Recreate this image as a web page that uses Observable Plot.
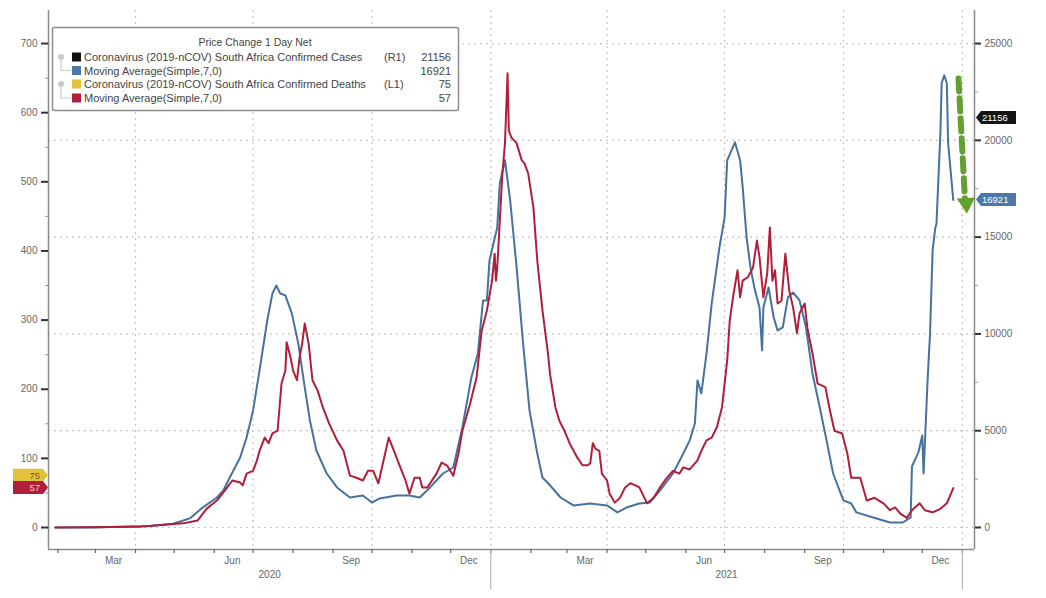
<!DOCTYPE html>
<html><head><meta charset="utf-8">
<script src="https://cdn.jsdelivr.net/npm/d3@7"></script>
<script src="https://cdn.jsdelivr.net/npm/@observablehq/plot@0.6"></script>
<style>
html,body{margin:0;padding:0;background:#fff;}
#chart{width:1046px;height:598px;overflow:hidden;}
#chart svg{font-family:"Liberation Sans",Arial,sans-serif;display:block;}
</style></head><body><div id="chart"></div>
<script>
// ---- data ----
const casesMA = [
["2020-01-30",0],["2020-03-01",0],["2020-03-28",60],["2020-04-12",80],["2020-04-30",200],["2020-05-08",360],["2020-05-13",470],["2020-05-23",1030],["2020-06-03",1550],["2020-06-08",1910],["2020-06-13",2580],["2020-06-21",3620],["2020-06-26",4650],["2020-07-01",6050],["2020-07-06",8110],["2020-07-12",10700],["2020-07-16",12090],["2020-07-19",12500],["2020-07-22",12090],["2020-07-26",11990],["2020-07-31",11060],["2020-08-05",9510],["2020-08-10",7240],["2020-08-14",5530],["2020-08-19",3980],["2020-08-27",2790],["2020-09-04",2070],["2020-09-14",1550],["2020-09-24",1650],["2020-10-01",1290],["2020-10-07",1500],["2020-10-20",1650],["2020-10-30",1650],["2020-11-07",1550],["2020-11-15",2070],["2020-11-25",2790],["2020-12-03",3100],["2020-12-10",5170],["2020-12-17",7750],["2020-12-22",8990],["2020-12-26",11730],["2020-12-29",11730],["2020-12-31",13800],["2021-01-06",15500],["2021-01-08",17780],["2021-01-12",18970],["2021-01-16",16900],["2021-01-21",13440],["2021-01-26",9510],["2021-01-31",6050],["2021-02-06",3820],["2021-02-10",2580],["2021-02-16",2170],["2021-02-24",1550],["2021-03-06",1140],["2021-03-19",1240],["2021-04-01",1140],["2021-04-09",780],["2021-04-16",1030],["2021-04-26",1240],["2021-05-04",1290],["2021-05-12",1910],["2021-05-22",2790],["2021-05-30",3820],["2021-06-04",4500],["2021-06-08",5370],["2021-06-10",7600],["2021-06-13",6930],["2021-06-17",8990],["2021-06-21",11580],["2021-06-27",14470],["2021-07-01",16020],["2021-07-03",18970],["2021-07-09",19900],["2021-07-13",18970],["2021-07-15",17570],["2021-07-18",14990],["2021-07-21",13440],["2021-07-24",12400],["2021-07-28",11370],["2021-07-30",9150],["2021-07-31",11370],["2021-08-04",12400],["2021-08-08",10850],["2021-08-11",10180],["2021-08-15",10340],["2021-08-19",11890],["2021-08-23",12140],["2021-08-28",11730],["2021-09-02",10340],["2021-09-07",7960],["2021-09-12",6410],["2021-09-17",4800],["2021-09-23",2790],["2021-09-28",1910],["2021-10-01",1400],["2021-10-07",1240],["2021-10-11",780],["2021-10-24",520],["2021-11-06",260],["2021-11-16",260],["2021-11-22",520],["2021-11-23",3150],["2021-11-28",3880],["2021-12-01",4750],["2021-12-02",2790],["2021-12-05",7440],["2021-12-07",10030],["2021-12-09",14320],["2021-12-11",15450],["2021-12-12",15710],["2021-12-15",20360],["2021-12-16",22950],["2021-12-18",23360],["2021-12-20",22950],["2021-12-21",19850],["2021-12-25",16921]
];
const deathsMA = [
["2020-01-30",0],["2020-04-04",1],["2020-05-08",6],["2020-05-19",10],["2020-05-26",27],["2020-06-03",39],["2020-06-11",58],["2020-06-15",68],["2020-06-21",65],["2020-06-23",61],["2020-06-26",78],["2020-07-01",82],["2020-07-04",97],["2020-07-06",111],["2020-07-10",130],["2020-07-13",122],["2020-07-16",136],["2020-07-20",140],["2020-07-23",208],["2020-07-26",227],["2020-07-27",268],["2020-07-30",246],["2020-08-01",227],["2020-08-04",213],["2020-08-06",246],["2020-08-08",266],["2020-08-10",295],["2020-08-13",266],["2020-08-16",213],["2020-08-20",198],["2020-08-24",174],["2020-08-29",150],["2020-09-04",126],["2020-09-09",111],["2020-09-14",75],["2020-09-19",72],["2020-09-24",68],["2020-09-28",82],["2020-10-02",82],["2020-10-06",64],["2020-10-10",97],["2020-10-14",130],["2020-10-17",116],["2020-10-23",87],["2020-10-27",68],["2020-10-30",49],["2020-11-03",72],["2020-11-07",72],["2020-11-09",58],["2020-11-13",58],["2020-11-20",78],["2020-11-24",94],["2020-11-28",90],["2020-12-03",75],["2020-12-07",107],["2020-12-10",140],["2020-12-16",179],["2020-12-21",217],["2020-12-25",285],["2020-12-29",314],["2021-01-02",357],["2021-01-04",396],["2021-01-05",357],["2021-01-06",376],["2021-01-10",512],["2021-01-12",556],["2021-01-14",657],["2021-01-15",574],["2021-01-17",564],["2021-01-21",556],["2021-01-25",531],["2021-01-27",527],["2021-01-30",512],["2021-02-03",463],["2021-02-06",386],["2021-02-10",314],["2021-02-14",256],["2021-02-16",220],["2021-02-20",174],["2021-02-23",155],["2021-02-27",140],["2021-03-03",122],["2021-03-09",101],["2021-03-13",90],["2021-03-17",90],["2021-03-19",93],["2021-03-21",122],["2021-03-23",114],["2021-03-26",111],["2021-03-28",78],["2021-04-01",68],["2021-04-03",49],["2021-04-07",36],["2021-04-11",43],["2021-04-15",58],["2021-04-19",64],["2021-04-23",61],["2021-04-26",58],["2021-05-02",35],["2021-05-07",43],["2021-05-12",58],["2021-05-17",71],["2021-05-22",82],["2021-05-27",78],["2021-05-30",87],["2021-06-04",84],["2021-06-10",97],["2021-06-13",111],["2021-06-17",126],["2021-06-21",130],["2021-06-25",145],["2021-06-29",174],["2021-07-03",242],["2021-07-05",300],["2021-07-08",339],["2021-07-11",372],["2021-07-13",333],["2021-07-15",357],["2021-07-19",362],["2021-07-23",376],["2021-07-26",415],["2021-07-28",391],["2021-07-31",333],["2021-08-03",368],["2021-08-05",434],["2021-08-07",357],["2021-08-09",372],["2021-08-11",324],["2021-08-14",328],["2021-08-17",396],["2021-08-20",343],["2021-08-23",318],["2021-08-26",281],["2021-08-28",310],["2021-09-01",324],["2021-09-03",289],["2021-09-07",252],["2021-09-11",208],["2021-09-17",203],["2021-09-20",174],["2021-09-24",140],["2021-09-30",136],["2021-10-04",107],["2021-10-07",72],["2021-10-14",72],["2021-10-19",39],["2021-10-25",43],["2021-11-01",35],["2021-11-06",25],["2021-11-10",29],["2021-11-14",20],["2021-11-19",14],["2021-11-23",25],["2021-11-29",35],["2021-12-03",25],["2021-12-09",22],["2021-12-15",27],["2021-12-20",35],["2021-12-25",57]
];
const leftTicks = [0,100,200,300,400,500,600,700];
const leftMinor = [50,150,250,350,450,550,650];
const rightTicks = [0,5000,10000,15000,20000,25000];
const rightMinor = [2500,7500,12500,17500,22500];
const monthLabels = ["Mar","Jun","Sep","Dec"];
const years = [2020, 2021];
const legendTitle = "Price Change 1 Day Net";
const legendRows = [
  {label:"Coronavirus (2019-nCOV) South Africa Confirmed Cases", axis:"(R1)", value:"21156", color:"#111111"},
  {label:"Moving Average(Simple,7,0)", axis:"", value:"16921", color:"#4a78a8"},
  {label:"Coronavirus (2019-nCOV) South Africa Confirmed Deaths", axis:"(L1)", value:"75", color:"#e2c23c"},
  {label:"Moving Average(Simple,7,0)", axis:"", value:"57", color:"#b01e3a"}
];
const lastCases = 21156, lastCasesMA = 16921, lastDeaths = 75, lastDeathsMA = 57;
const arrowLine = [["2021-12-29",23200],["2022-01-03",17000]];
const arrowHead = [["2022-01-04",16750]];

// ---- helpers ----
const RATIO = 25000 / 700; // right axis units per left axis unit
const D = s => new Date(s + "T00:00:00Z");
const cases = casesMA.map(([d,v]) => ({date:D(d), v}));
const deaths = deathsMA.map(([d,v]) => ({date:D(d), v}));
const xDomain = [new Date(Date.UTC(2020,0,24,16)), new Date(Date.UTC(2022,0,10,10))];
const yDomain = [-31.8, 747.8];

const monthStarts = d3.utcMonth.range(d3.utcMonth.ceil(xDomain[0]), xDomain[1]);
const quarterStarts = monthStarts.filter(d => d.getUTCMonth() % 3 === 0);
const yearStarts = monthStarts.filter(d => d.getUTCMonth() === 0);
const monthIdx = monthLabels.map(m => ["Jan","Feb","Mar","Apr","May","Jun","Jul","Aug","Sep","Oct","Nov","Dec"].indexOf(m));
const midMonths = years.flatMap(y => monthIdx.map(m => new Date(Date.UTC(y, m, 15))));
const yearMids = years.map(y => {
  const a = Math.max(+xDomain[0], Date.UTC(y,0,1)), b = Math.min(+xDomain[1], Date.UTC(y+1,0,1));
  return new Date((a + b) / 2);
});

const green = "#62a032";
const chart = Plot.plot({
  width: 1046, height: 598,
  marginLeft: 48, marginRight: 72, marginTop: 10, marginBottom: 49,
  x: {type: "utc", domain: xDomain},
  y: {domain: yDomain},
  style: {fontFamily: "Liberation Sans, Arial, sans-serif", fontSize: "10px", background: "#fff"},
  marks: [
    Plot.ruleY(rightTicks, {y: d => d / RATIO, stroke: "#c4c4c4", strokeDasharray: "2,4", strokeWidth: 1.2}),
    Plot.ruleX(quarterStarts, {stroke: "#c4c4c4", strokeDasharray: "2,4", strokeWidth: 1.2}),
    Plot.ruleX([xDomain[0], xDomain[1]], {stroke: "#8a8a8a", strokeWidth: 1.5}),
    Plot.ruleY([yDomain[0]], {stroke: "#8a8a8a", strokeWidth: 1.5}),
    // left axis
    Plot.axisY(leftTicks, {anchor: "left", tickSize: 7, tickPadding: 3, color: "#333", strokeWidth: 2, tickFormat: () => "", label: null}),
    Plot.axisY(leftMinor, {anchor: "left", tickSize: 3, color: "#999", tickFormat: () => "", label: null}),
    Plot.axisY(leftTicks, {anchor: "left", tickSize: 0, tickPadding: 11, color: "#666", fontSize: 10, label: null}),
    // right axis
    Plot.axisY(rightTicks.map(d => d / RATIO), {anchor: "right", tickSize: 6, color: "#333", strokeWidth: 2, tickFormat: () => "", label: null}),
    Plot.axisY(rightMinor.map(d => d / RATIO), {anchor: "right", tickSize: 3, color: "#999", tickFormat: () => "", label: null}),
    Plot.axisY(rightTicks.map(d => d / RATIO), {anchor: "right", tickSize: 0, tickPadding: 10, color: "#666", fontSize: 10, tickFormat: d => String(Math.round(d * RATIO)), label: null}),
    // bottom axis
    Plot.axisX(monthStarts, {anchor: "bottom", tickSize: 4, color: "#666", strokeWidth: 1.2, tickFormat: () => "", label: null}),
    Plot.axisX(midMonths, {anchor: "bottom", tickSize: 0, tickPadding: 7, color: "#666", fontSize: 10, tickFormat: d3.utcFormat("%b"), label: null}),
    Plot.axisX(yearMids, {anchor: "bottom", tickSize: 0, tickPadding: 21, color: "#666", fontSize: 10, tickFormat: d3.utcFormat("%Y"), label: null}),
    Plot.axisX(yearStarts, {anchor: "bottom", tickSize: 40, color: "#aaa", strokeWidth: 1, tickFormat: () => "", label: null}),
    // series
    Plot.line(cases, {x: "date", y: d => d.v / RATIO, stroke: "#46729f", strokeWidth: 2}),
    Plot.line(deaths, {x: "date", y: "v", stroke: "#b01e3a", strokeWidth: 2}),
    // annotation arrow
    Plot.line(arrowLine, {x: d => D(d[0]), y: d => d[1] / RATIO, stroke: green, strokeWidth: 6, strokeDasharray: "13,7"}),
    Plot.dot(arrowHead, {x: d => D(d[0]), y: d => d[1] / RATIO, symbol: "triangle", r: 6.8, fill: green, rotate: 176.6})
  ]
});
document.getElementById("chart").appendChild(chart);

// ---- legend and value tags ----
const sy = chart.scale("y");
const svg = d3.select(chart);
const font = "Liberation Sans, Arial, sans-serif";

const lg = svg.append("g").attr("font-family", font).attr("font-size", 11).attr("fill", "#444").attr("text-anchor", "start");
lg.append("rect").attr("x", 52.5).attr("y", 27.5).attr("width", 406).attr("height", 83).attr("rx", 2)
  .attr("fill", "#fff").attr("stroke", "#8c8c8c").attr("stroke-width", 1.5);
lg.append("text").attr("x", 255).attr("y", 46).attr("text-anchor", "middle").attr("font-size", 10.5).text(legendTitle);
const rowY = [57, 70.5, 84, 98];
legendRows.forEach((r, i) => {
  const cy = rowY[i];
  if (i % 2 === 0) {
    lg.append("circle").attr("cx", 61).attr("cy", cy).attr("r", 3).attr("fill", "#c8c8c8");
    lg.append("path").attr("d", `M61,${cy+3}V${rowY[i+1]}H71`).attr("fill", "none").attr("stroke", "#c8c8c8").attr("stroke-width", 1.2);
  }
  lg.append("rect").attr("x", 72).attr("y", cy - 4.5).attr("width", 9).attr("height", 9).attr("fill", r.color);
  lg.append("text").attr("x", 84).attr("y", cy + 4).attr("text-anchor", "start").text(r.label);
  if (r.axis) lg.append("text").attr("x", 384).attr("y", cy + 4).attr("text-anchor", "start").text(r.axis);
  lg.append("text").attr("x", 451).attr("y", cy + 4).attr("text-anchor", "end").text(r.value);
});

function leftTag(v, fill, txt, color) {
  const y = sy.apply(v), h = 13;
  const g = svg.append("g");
  g.append("path").attr("d", `M13,${y-h/2}H43L48,${y}L43,${y+h/2}H13Z`).attr("fill", fill);
  g.append("text").attr("x", 40).attr("y", y + 3.5).attr("text-anchor", "end").attr("font-family", font)
    .attr("font-size", 9.5).attr("fill", color).text(txt);
}
function rightTag(v, fill, txt) {
  const y = sy.apply(v / RATIO), h = 13;
  const g = svg.append("g");
  g.append("path").attr("d", `M976,${y}L981,${y-h/2}H1016V${y+h/2}H981Z`).attr("fill", fill);
  g.append("text").attr("x", 982).attr("y", y + 3.5).attr("text-anchor", "start").attr("font-family", font)
    .attr("font-size", 9.5).attr("fill", "#fff").text(txt);
}
leftTag(lastDeaths, "#e2c23c", String(lastDeaths), "#7a5a10");
leftTag(lastDeathsMA, "#b01e3a", String(lastDeathsMA), "#f3c8cf");
rightTag(lastCases, "#151515", String(lastCases));
rightTag(lastCasesMA, "#4a78a8", String(lastCasesMA));
</script></body></html>
